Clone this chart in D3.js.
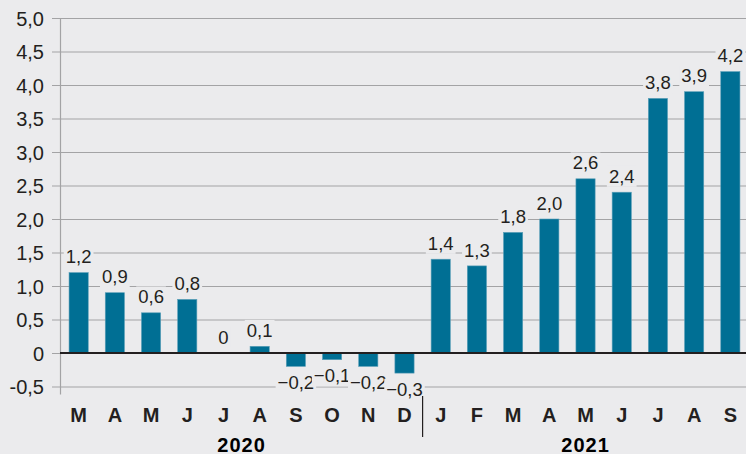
<!DOCTYPE html>
<html>
<head>
<meta charset="utf-8">
<script src="https://cdn.jsdelivr.net/npm/d3@7"></script>
<style>
  body { margin: 0; background: #ebebed; }
  svg { display: block; font-family: "Liberation Sans", Arial, sans-serif; }
</style>
</head>
<body>
<svg id="chart"></svg>
<script>
//Month labels along the x axis.
var months = ["M", "A", "M", "J", "J", "A", "S", "O", "N", "D", "J", "F", "M", "A", "M", "J", "J", "A", "S"];
//Year of each month.
var years = [2020, 2020, 2020, 2020, 2020, 2020, 2020, 2020, 2020, 2020, 2021, 2021, 2021, 2021, 2021, 2021, 2021, 2021, 2021];
//Values.
var values = [1.2, 0.9, 0.6, 0.8, 0, 0.1, -0.2, -0.1, -0.2, -0.3, 1.4, 1.3, 1.8, 2.0, 2.6, 2.4, 3.8, 3.9, 4.2];
//Y axis ticks.
var yTicks = [-0.5, 0, 0.5, 1, 1.5, 2, 2.5, 3, 3.5, 4, 4.5, 5];

var width = 746,
    height = 454,
    bg = "#ebebed";

var svg = d3.select("#chart")
    .attr("width", width)
    .attr("height", height);

svg.append("rect")
    .attr("width", width)
    .attr("height", height)
    .attr("fill", bg);

var yScale = d3.scaleLinear()
    .domain([-0.5, 5])
    .range([386.5, 18]);

var xScale = d3.scaleBand()
    .domain(d3.range(values.length))
    .range([60, 749])
    .paddingInner(0.47)
    .paddingOuter(0.25);

//Formats numbers with a comma and a real minus sign.
function fmt(v, digits) {
    var s = Math.abs(v).toFixed(digits).replace(".", ",");
    if (v < 0) s = "\u2212" + s;
    return s;
}

//Gridlines and tick labels.
var yAxis = d3.axisLeft(yScale)
    .tickValues(yTicks)
    .tickSize(-(width - 52))
    .tickPadding(8)
    .tickFormat(function (d) { return d === 0 ? "0" : (d < 0 ? "-" : "") + Math.abs(d).toFixed(1).replace(".", ","); });

var axisG = svg.append("g")
    .attr("transform", "translate(52,0)")
    .call(yAxis);

axisG.select(".domain").remove();
axisG.selectAll(".tick line")
    .attr("stroke", "#a3a3a5")
    .attr("stroke-width", 1.2);
axisG.selectAll(".tick text")
    .attr("fill", "#231f20")
    .attr("font-size", "20px")
    .attr("dy", "0.36em");

//Vertical axis line.
svg.append("line")
    .attr("x1", 60.5).attr("x2", 60.5)
    .attr("y1", yScale(5)).attr("y2", yScale(-0.5) + 8)
    .attr("stroke", "#a3a3a5")
    .attr("stroke-width", 1.2);

//Bars.
svg.selectAll(".bar")
    .data(values)
    .enter()
    .append("rect")
    .attr("class", "bar")
    .attr("x", function (d, i) { return xScale(i); })
    .attr("width", xScale.bandwidth())
    .attr("y", function (d) { return yScale(Math.max(0, d)); })
    .attr("height", function (d) { return Math.abs(yScale(d) - yScale(0)); })
    .attr("fill", "#006f94")
    .attr("stroke", "#5a9fb8")
    .attr("stroke-width", 0.6);

//Zero line.
svg.append("line")
    .attr("x1", 60).attr("x2", width)
    .attr("y1", yScale(0)).attr("y2", yScale(0))
    .attr("stroke", "#231f20")
    .attr("stroke-width", 1.8);

//Value labels with a background box to hide gridlines.
var labels = svg.selectAll(".valLabel")
    .data(values)
    .enter()
    .append("g")
    .attr("class", "valLabel")
    .attr("transform", function (d, i) {
        var cx = xScale(i) + xScale.bandwidth() / 2;
        var cy = d < 0 ? yScale(d) + 16 : yScale(d) - 16;
        return "translate(" + cx + "," + cy + ")";
    });

labels.append("text")
    .attr("text-anchor", "middle")
    .attr("dy", "0.36em")
    .attr("font-size", "18.5px")
    .attr("fill", "#231f20")
    .text(function (d) { return d === 0 ? "0" : fmt(d, 1); });

labels.each(function () {
    var g = d3.select(this);
    var b = g.select("text").node().getBBox();
    g.insert("rect", "text")
        .attr("x", b.x - 2)
        .attr("y", b.y)
        .attr("width", b.width + 4)
        .attr("height", b.height)
        .attr("fill", bg);
});

//Month labels.
svg.selectAll(".month")
    .data(months)
    .enter()
    .append("text")
    .attr("class", "month")
    .attr("x", function (d, i) { return xScale(i) + xScale.bandwidth() / 2; })
    .attr("y", 415)
    .attr("dy", "0.36em")
    .attr("text-anchor", "middle")
    .attr("font-size", "20px")
    .attr("font-weight", "bold")
    .attr("fill", "#231f20")
    .text(function (d) { return d; });

//Year labels centered under their months.
var yearList = Array.from(new Set(years));
svg.selectAll(".year")
    .data(yearList)
    .enter()
    .append("text")
    .attr("class", "year")
    .attr("x", function (y) {
        var idx = d3.range(years.length).filter(function (i) { return years[i] === y; });
        var a = xScale(idx[0]) + xScale.bandwidth() / 2;
        var b = xScale(idx[idx.length - 1]) + xScale.bandwidth() / 2;
        return (a + b) / 2;
    })
    .attr("y", 445)
    .attr("dy", "0.36em")
    .attr("text-anchor", "middle")
    .attr("font-size", "20px")
    .attr("font-weight", "bold")
    .attr("letter-spacing", "1px")
    .attr("fill", "#000")
    .text(function (d) { return d; });

//Separator between the years.
var firstNew = years.indexOf(2021);
var sepX = (xScale(firstNew - 1) + xScale.bandwidth() + xScale(firstNew)) / 2;
svg.append("line")
    .attr("x1", sepX).attr("x2", sepX)
    .attr("y1", 396).attr("y2", 437)
    .attr("stroke", "#231f20")
    .attr("stroke-width", 1.2);
</script>
</body>
</html>
